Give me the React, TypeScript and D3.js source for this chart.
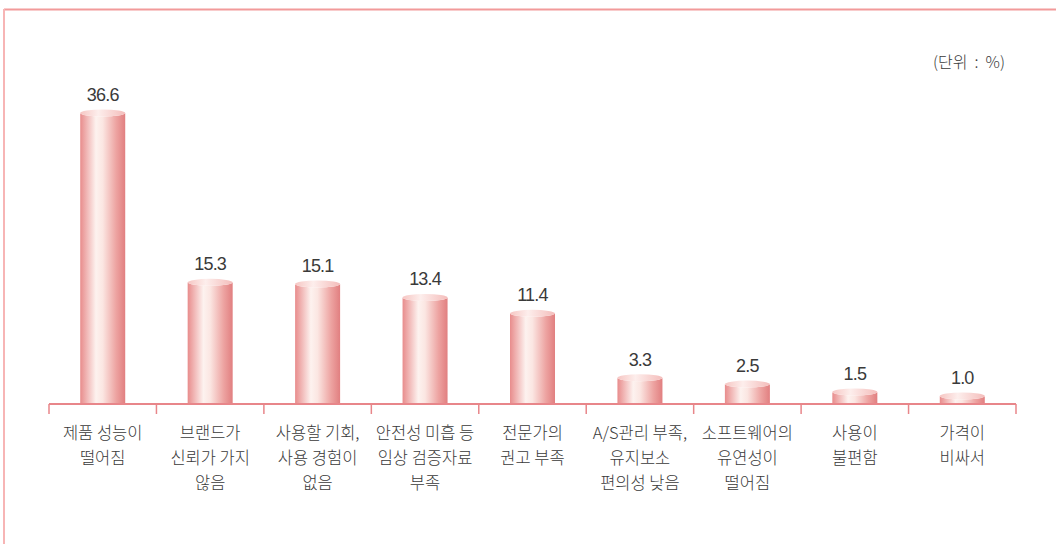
import React from "react";
import * as d3 from "d3";

const categories: string[][] = [
  ["제품 성능이", "떨어짐"],
  ["브랜드가", "신뢰가 가지", "않음"],
  ["사용할 기회,", "사용 경험이", "없음"],
  ["안전성 미흡 등", "임상 검증자료", "부족"],
  ["전문가의", "권고 부족"],
  ["A/S관리 부족,", "유지보소", "편의성 낮음"],
  ["소프트웨어의", "유연성이", "떨어짐"],
  ["사용이", "불편함"],
  ["가격이", "비싸서"],
];
const values: number[] = [36.6, 15.3, 15.1, 13.4, 11.4, 3.3, 2.5, 1.5, 1.0];
const valueLabels: string[] = ["36.6", "15.3", "15.1", "13.4", "11.4", "3.3", "2.5", "1.5", "1.0"];
const unitLabel = "(단위  :  %)";

const W = 1056;
const H = 544;
const left = 49;
const right = 1016;
const baseY = 404;
const font = "'Noto Sans CJK KR', 'Noto Sans', sans-serif";
const numFont = "'Liberation Sans', Arial, sans-serif";

export default function App() {
  const x = d3
    .scaleBand<number>()
    .domain(values.map((_, i) => i))
    .range([left, right])
    .paddingInner(0)
    .paddingOuter(0);
  const y = d3.scaleLinear().domain([0, 36.6]).range([baseY, 113]);
  const bw = 45;
  const ry = 3.5;
  const boundaries = [...values.map((_, i) => x(i) as number), right];

  return (
    <svg
      width={W}
      height={H}
      style={{ position: "absolute", left: 0, top: 0, background: "#fff" }}
    >
      <defs>
        <linearGradient id="barGrad" x1="0" x2="1" y1="0" y2="0">
          <stop offset="0" stopColor="#e88c8c" />
          <stop offset="0.35" stopColor="#fdf2ef" />
          <stop offset="0.5" stopColor="#fbe6e2" />
          <stop offset="0.8" stopColor="#eda3a1" />
          <stop offset="1" stopColor="#e17f80" />
        </linearGradient>
        <linearGradient id="topGrad" x1="0" x2="1" y1="0" y2="0">
          <stop offset="0" stopColor="#f6c6c3" />
          <stop offset="0.4" stopColor="#fdeeec" />
          <stop offset="1" stopColor="#f4bdbb" />
        </linearGradient>
      </defs>
      {/* frame */}
      <line x1={4} x2={W} y1={9.5} y2={9.5} stroke="#f29a9a" strokeWidth={2} />
      <line x1={4} x2={4} y1={9} y2={H} stroke="#f7b5b5" strokeWidth={2} />

      <text
        x={1005}
        y={68}
        textAnchor="end"
        fontFamily={font}
        fontWeight={300}
        fontSize={16}
        fill="#3a3a3a"
        style={{ whiteSpace: "pre" }}
      >
        {unitLabel}
      </text>

      {values.map((v, i) => {
        const cx = (x(i) as number) + x.bandwidth() / 2;
        const top = y(v);
        return (
          <g key={i}>
            <path
              d={`M${cx - bw / 2},${top} L${cx - bw / 2},${baseY} L${cx + bw / 2},${baseY} L${cx + bw / 2},${top} A${bw / 2},${ry} 0 0 1 ${cx - bw / 2},${top} Z`}
              fill="url(#barGrad)"
            />
            <ellipse cx={cx} cy={top} rx={bw / 2} ry={ry} fill="url(#topGrad)" />
            <text
              x={cx}
              y={top - 12}
              textAnchor="middle"
              fontFamily={numFont}
              fontSize={18}
              letterSpacing={-0.8}
              fill="#3a3a3a"
            >
              {valueLabels[i]}
            </text>
            {categories[i].map((line, j) => (
              <text
                key={j}
                x={cx}
                y={439 + j * 25}
                textAnchor="middle"
                fontFamily={font}
                fontWeight={300}
                fontSize={16.5}
                fill="#3a3a3a"
              >
                {line}
              </text>
            ))}
          </g>
        );
      })}

      <line x1={left} x2={right} y1={baseY} y2={baseY} stroke="#e8868a" strokeWidth={2} />
      {boundaries.map((b, i) => (
        <line key={i} x1={b} x2={b} y1={baseY} y2={414} stroke="#e8868a" strokeWidth={1.5} />
      ))}
    </svg>
  );
}
